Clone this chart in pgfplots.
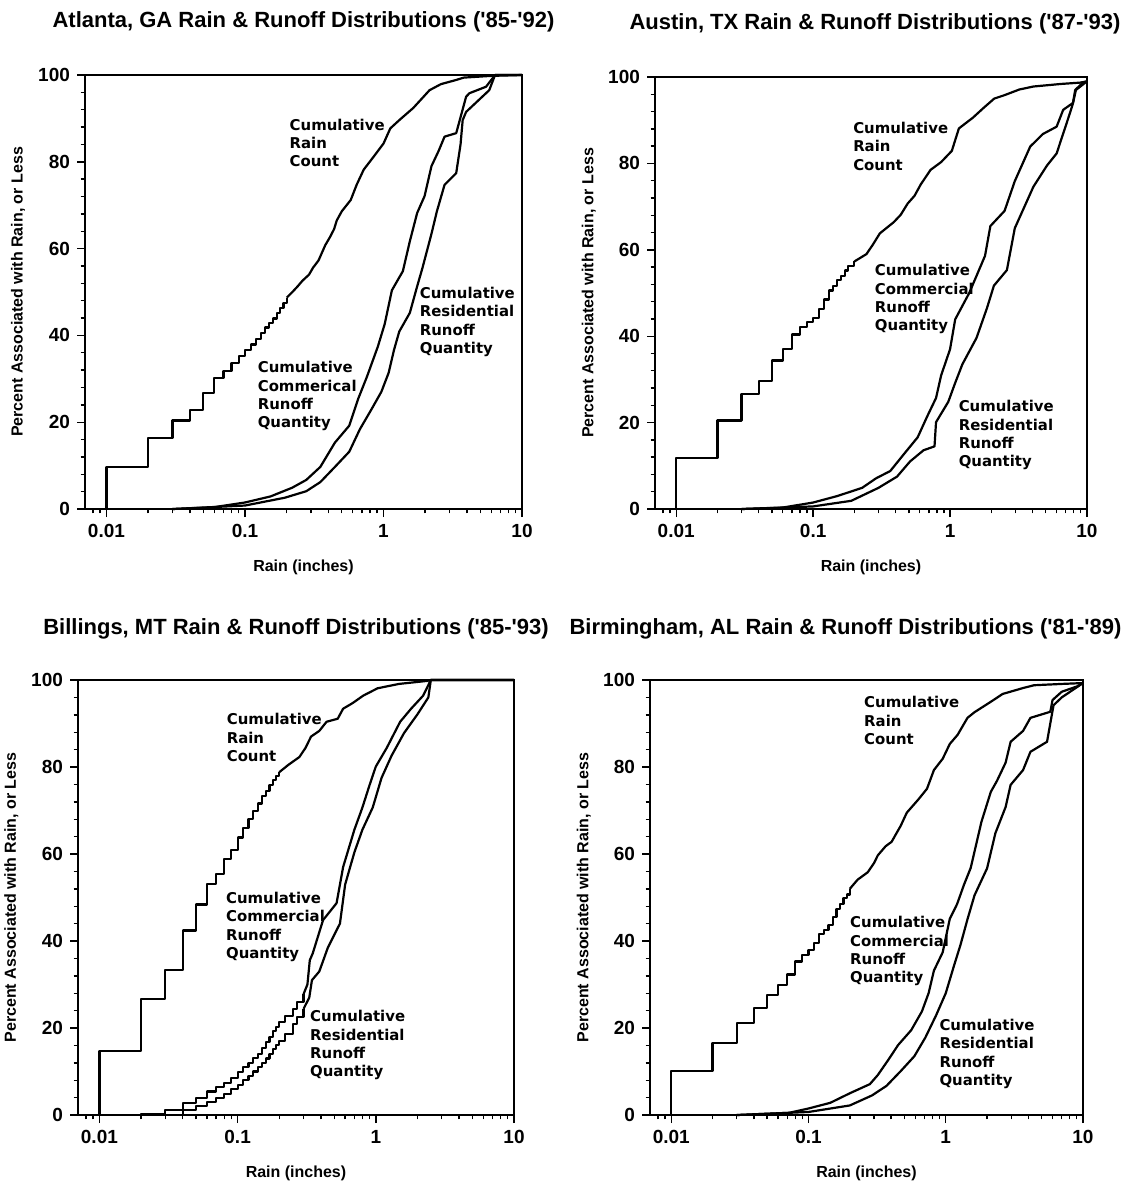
\documentclass[border=0pt]{standalone}
\usepackage{pgfplots}
\pgfplotsset{compat=1.18}
\usepackage{fontspec}
\setmainfont{Liberation Sans}
\newfontfamily\annfont{DejaVu Sans}

\pgfplotsset{
  rainaxis/.style={
    scale only axis, xmin=0.007, xmax=10, ymin=0, ymax=100,
    xtick={0.01,0.1,1,10}, xticklabels={0.01,0.1,1,10},
    minor xtick={0.008,0.009,0.02,0.03,0.04,0.05,0.06,0.07,0.08,0.09,
      0.2,0.3,0.4,0.5,0.6,0.7,0.8,0.9,2,3,4,5,6,7,8,9},
    ytick={0,20,...,100}, minor y tick num=4,
    tick align=outside, tick pos=left,
    major tick length=4pt, minor tick length=2.2pt,
    axis line style={line width=1pt},
    every tick/.style={black, line width=0.7pt},
    tick label style={font=\fontsize{9.5}{10}\selectfont\bfseries},
    /pgf/number format/assume math mode=true,
    label style={font=\fontsize{8}{10}\selectfont\bfseries},
    xlabel={Rain (inches)}, ylabel={Percent Associated with Rain, or Less},
    xlabel style={at={(axis description cs:0.5,0)}, anchor=center, yshift=-29pt},
    ylabel style={at={(axis description cs:-0.153,0.5)}, anchor=center},
    title style={font=\fontsize{11}{12}\selectfont\bfseries,
      at={(axis description cs:0.5,1)}, anchor=center, yshift=20.5pt},
    anchor=south west, clip=false,
  },
}
\tikzset{
  curve/.style={black, line width=1.1pt, line join=round},
  ann/.style={font=\annfont\bfseries\fontsize{7.45}{9.15}\selectfont,
    align=left, anchor=north west, inner sep=0pt},
}
\newcommand{\q}{\textquotesingle}

\begin{document}
\begin{tikzpicture}
\path[use as bounding box] (0pt,0pt) rectangle (561pt,-592pt);

% Atlanta
\begin{semilogxaxis}[rainaxis, at={(42.5pt,-254.5pt)}, width=218.5pt, height=217pt,
  title={Atlanta, GA Rain \& Runoff Distributions (\q85-\q92)}]
\addplot[curve, const plot] coordinates {
  (0.01,0)(0.01,9.7)(0.02,16.4)(0.03,20.4)(0.04,22.9)(0.05,26.8)(0.06,30.1)
  (0.07,31.8)(0.08,33.7)(0.09,35.3)(0.1,36.6)(0.11,37.9)(0.12,39.2)(0.13,40.5)
  (0.14,41.8)(0.15,42.8)(0.16,43.9)(0.17,45.2)(0.18,46.3)(0.19,47.4)(0.2,48.7)};
\addplot[curve] coordinates {
  (0.2,48.7)(0.22,50)(0.24,51.3)(0.26,52.6)(0.29,54)(0.31,55.6)(0.34,57.3)
  (0.36,59.1)(0.38,60.8)(0.41,62.6)(0.44,64.5)(0.46,66.5)(0.5,68.6)(0.58,71.2)
  (0.64,74.7)(0.72,78.2)(0.85,81.2)(1.0,84.2)(1.12,87.7)(1.3,89.6)(1.64,92.4)
  (2.15,96.5)(2.6,97.9)(3.3,98.8)(3.8,99.4)(6.0,99.8)(10,100)};
\addplot[curve] coordinates {
  (0.03,0)(0.059,0.4)(0.1,1.5)(0.153,2.9)(0.219,4.9)(0.277,6.7)(0.35,9.7)
  (0.446,15.3)(0.566,19.2)(0.655,25.3)(0.76,30.5)(0.91,37.4)(1.02,42.6)
  (1.15,50.4)(1.38,54.8)(1.55,61.7)(1.75,68.2)(1.98,72.1)(2.22,79)(2.5,82.5)
  (2.76,85.8)(3.35,86.6)(3.95,95)(4.17,95.8)(5.5,97.3)(6.15,99.3)
  (6.4,100)(10,100)};
\addplot[curve] coordinates {
  (0.03,0)(0.1,0.8)(0.194,2.6)(0.277,4.1)(0.35,6.2)(0.446,9.7)(0.566,13.2)
  (0.676,18.4)(0.81,22.7)(0.965,27)(1.09,31.4)(1.19,36.6)(1.3,40.9)(1.55,45.2)
  (1.75,51.3)(1.91,55.5)(2.22,63.4)(2.43,68.6)(2.76,74.7)(3.35,77.4)(3.6,84)
  (3.73,89.6)(3.95,91.5)(5.8,96.5)(6.3,99.5)(6.4,100)(10,100)};
\node[ann] at (axis cs:0.209,90) {Cumulative\\Rain\\Count};
\node[ann] at (axis cs:0.123,34.1) {Cumulative\\Commerical\\Runoff\\Quantity};
\node[ann] at (axis cs:1.82,51.2) {Cumulative\\Residential\\Runoff\\Quantity};
\end{semilogxaxis}

% Austin
\begin{semilogxaxis}[rainaxis, at={(327.5pt,-254.5pt)}, width=216pt, height=216pt,
  title={Austin, TX Rain \& Runoff Distributions (\q87-\q93)},
  title style={xshift=2pt}]
\addplot[curve, const plot] coordinates {
  (0.01,0)(0.01,11.9)(0.02,20.5)(0.03,26.6)(0.04,29.6)(0.05,34.4)(0.06,37.0)
  (0.07,40.4)(0.08,42.2)(0.09,43.2)(0.1,44.3)(0.11,46.3)(0.12,48.5)(0.13,50.6)
  (0.14,51.7)(0.15,53)(0.16,53.9)(0.17,55.2)(0.18,56.2)(0.2,57.3)};
\addplot[curve] coordinates {
  (0.2,57.3)(0.245,59)(0.273,61.2)(0.307,63.8)(0.345,65.1)(0.388,66.4)
  (0.436,68.1)(0.49,70.7)(0.55,72.5)(0.61,75.1)(0.72,78.5)(0.86,80.3)
  (1.03,82.9)(1.16,88.1)(1.47,90.6)(1.75,92.8)(2.1,95)(2.5,95.8)(3.2,97.1)
  (4.06,97.8)(6.5,98.4)(8.9,98.7)(10,99)};
\addplot[curve] coordinates {
  (0.03,0)(0.059,0.3)(0.1,1.5)(0.15,3)(0.228,4.9)(0.288,7.1)(0.366,8.8)
  (0.46,12.7)(0.58,16.6)(0.68,21.4)(0.79,25.7)(0.86,30.9)(1.0,37)(1.09,43.9)
  (1.38,50)(1.8,58.6)(1.97,65.5)(2.5,69)(2.97,75.9)(3.85,83.9)(4.76,86.8)
  (6.0,88.5)(6.7,92.4)(7.9,94)(8.2,97)(9.2,98.5)(10,99)};
\addplot[curve] coordinates {
  (0.03,0)(0.1,0.6)(0.19,1.9)(0.3,4.9)(0.41,7.5)(0.51,11)(0.64,13.6)(0.77,14.5)
  (0.79,20.1)(0.97,24.8)(1.09,29.2)(1.23,33.5)(1.56,39.6)(1.86,46.5)(2.09,51.7)
  (2.6,55.3)(2.97,65)(4.06,74.6)(5.1,79.5)(6.0,82.3)(7.5,91.6)(7.9,93.9)
  (8.3,97)(10,99)};
\node[ann] at (axis cs:0.195,89.6) {Cumulative\\Rain\\Count};
\node[ann] at (axis cs:0.281,56.7) {Cumulative\\Commercial\\Runoff\\Quantity};
\node[ann] at (axis cs:1.15,25.2) {Cumulative\\Residential\\Runoff\\Quantity};
\end{semilogxaxis}

% Billings
\begin{semilogxaxis}[rainaxis, at={(39pt,-557.5pt)}, width=218pt, height=217.5pt,
  title={Billings, MT Rain \& Runoff Distributions (\q85-\q93)},
  title style={yshift=-1pt}]
\addplot[curve, const plot] coordinates {
  (0.01,0)(0.01,14.8)(0.02,26.6)(0.03,33.4)(0.04,42.4)(0.05,48.4)(0.06,53.1)
  (0.07,55.4)(0.08,58.9)(0.09,61)(0.1,63.8)(0.11,66)(0.12,68.1)(0.13,69.8)
  (0.14,71.6)(0.15,73.3)(0.16,74.5)(0.17,75.8)(0.18,77.1)(0.19,78)(0.2,78.8)};
\addplot[curve] coordinates {
  (0.2,78.8)(0.233,80.5)(0.28,82.3)(0.31,84.4)(0.34,87)(0.39,88.3)(0.44,90.4)
  (0.53,91.1)(0.58,93.4)(0.68,94.7)(0.81,96.4)(1.03,98.1)(1.47,99.1)
  (2.36,99.8)(2.5,100)(10,100)};
\addplot[curve, const plot] coordinates {
  (0.02,0)(0.02,0.3)(0.03,1.1)(0.04,2.8)(0.05,4)(0.06,5.4)(0.07,6.4)(0.08,7.3)
  (0.09,8.6)(0.1,9.9)(0.11,11)(0.12,12)(0.13,13.1)(0.14,14.1)(0.15,15.4)
  (0.16,16.7)(0.17,18)(0.18,19.3)(0.19,20.3)(0.2,21.4)(0.22,22.8)(0.25,24.4)
  (0.27,26)(0.3,27.8)};
\addplot[curve] coordinates {
  (0.3,27.8)(0.32,30)(0.333,35.6)(0.35,37.2)(0.415,44.8)(0.52,48.7)(0.58,57)
  (0.7,65.6)(0.8,70.7)(0.9,75.8)(1.0,80.1)(1.2,84.4)(1.5,90.4)(1.8,93.4)
  (2.2,96.4)(2.5,100)(10,100)};
\addplot[curve, const plot] coordinates {
  (0.03,0)(0.04,1.1)(0.05,2.1)(0.06,3)(0.07,3.9)(0.08,4.9)(0.09,5.9)(0.1,6.9)
  (0.11,8)(0.12,9)(0.13,10)(0.14,11)(0.15,12)(0.16,13)(0.17,14.1)(0.18,15.1)
  (0.19,16.1)(0.2,17.1)(0.22,18.7)(0.25,21)(0.27,22.5)(0.3,24.4)};
\addplot[curve] coordinates {
  (0.3,24.4)(0.33,27)(0.345,31)(0.39,33)(0.45,38.5)(0.55,44)(0.6,53)
  (0.7,60.4)(0.8,65.6)(0.95,70.7)(1.1,77.5)(1.3,82.6)(1.6,87.8)(2.0,92.1)
  (2.4,96)(2.5,100)(10,100)};
\node[ann] at (axis cs:0.083,92.4) {Cumulative\\Rain\\Count};
\node[ann] at (axis cs:0.082,51.3) {Cumulative\\Commercial\\Runoff\\Quantity};
\node[ann] at (axis cs:0.333,24.1) {Cumulative\\Residential\\Runoff\\Quantity};
\end{semilogxaxis}

% Birmingham
\begin{semilogxaxis}[rainaxis, at={(325pt,-557.5pt)}, width=216.5pt, height=217.5pt,
  title={Birmingham, AL Rain \& Runoff Distributions (\q81-\q89)},
  title style={xshift=-10.5pt, yshift=-1pt}]
\addplot[curve, const plot] coordinates {
  (0.01,0)(0.01,10.1)(0.02,16.5)(0.03,21.2)(0.04,24.6)(0.05,27.6)(0.06,29.9)
  (0.07,32.3)(0.08,35.3)(0.09,36.8)(0.1,37.9)(0.11,39.6)(0.12,41.7)(0.13,42.6)
  (0.14,43.6)(0.15,45.6)(0.16,47.3)(0.17,48.5)(0.18,49.8)(0.19,50.7)(0.2,52)};
\addplot[curve] coordinates {
  (0.2,52)(0.228,54.1)(0.27,55.8)(0.3,57.9)(0.32,59.7)(0.365,61.8)(0.403,62.8)
  (0.47,66.5)(0.52,69.5)(0.63,72.5)(0.73,75)(0.82,79.3)(0.95,81.9)(1.07,85.3)
  (1.22,87.4)(1.44,91.3)(1.62,92.6)(2.13,95)(2.6,96.8)(3.7,98.2)(4.4,98.8)
  (7.0,99.1)(10,99.3)};
\addplot[curve] coordinates {
  (0.03,0)(0.072,0.5)(0.1,1.5)(0.144,2.8)(0.2,5)(0.28,7.1)(0.32,9.2)(0.38,12.6)
  (0.45,16.1)(0.56,19.5)(0.67,23.8)(0.75,28)(0.82,33.2)(0.95,37.4)(1.07,45.1)
  (1.21,48.5)(1.36,53)(1.52,56.8)(1.82,67.4)(2.13,74.3)(2.36,76.8)(2.73,81)
  (2.97,85.8)(3.66,88.3)(4.14,91.3)(5.78,92.7)(6.0,95.4)(7.0,97.3)(9.0,98.5)
  (10,99.3)};
\addplot[curve] coordinates {
  (0.03,0)(0.1,0.7)(0.2,2.2)(0.29,4.5)(0.37,6.7)(0.47,10.1)(0.59,13.5)
  (0.71,17.8)(0.85,22.9)(1.0,28)(1.14,34)(1.28,39.1)(1.44,45)(1.62,50.5)
  (2.0,56.7)(2.3,64.8)(2.73,70.8)(2.97,75.9)(3.66,79.3)(4.14,83.5)(5.47,85.8)
  (6.1,94.2)(7.0,96)(10,99.3)};
\node[ann] at (axis cs:0.253,96.3) {Cumulative\\Rain\\Count};
\node[ann] at (axis cs:0.200,45.7) {Cumulative\\Commercial\\Runoff\\Quantity};
\node[ann] at (axis cs:0.895,22.1) {Cumulative\\Residential\\Runoff\\Quantity};
\end{semilogxaxis}
\end{tikzpicture}
\end{document}
